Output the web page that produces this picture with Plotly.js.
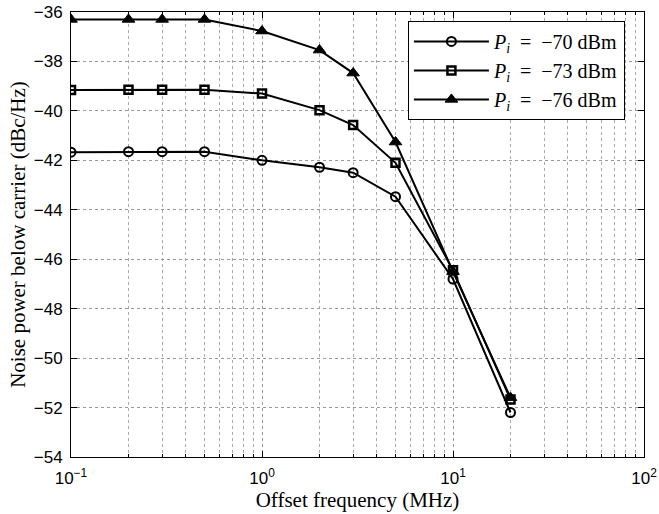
<!DOCTYPE html>
<html>
<head>
<meta charset="utf-8">
<script src="https://cdn.plot.ly/plotly-3.0.1.min.js"></script>
<style>html,body{margin:0;padding:0;background:#fff;}#chart{width:659px;height:514px;}</style>
</head>
<body>
<div id="chart"></div>
<script>
const offsetFreq = [0.1, 0.2, 0.3, 0.5, 1, 2, 3, 5, 10, 20];
const noise70 = [-41.67, -41.65, -41.65, -41.65, -42.0, -42.28, -42.5, -43.47, -46.8, -52.2];
const noise73 = [-39.16, -39.15, -39.15, -39.15, -39.3, -39.97, -40.57, -42.1, -46.45, -51.67];
const noise76 = [-36.3, -36.3, -36.3, -36.3, -36.77, -37.54, -38.47, -41.26, -46.5, -51.6];
const seriesNames = [
  '<i>P</i><sub><i>i</i></sub>\u2002=\u2002\u221270\u00A0dBm',
  '<i>P</i><sub><i>i</i></sub>\u2002=\u2002\u221273\u00A0dBm',
  '<i>P</i><sub><i>i</i></sub>\u2002=\u2002\u221276\u00A0dBm'
];
const xTickVals = [0.1, 1, 10, 100];
const xTickText = ['10<sup>−1</sup>', '10<sup>0</sup>', '10<sup>1</sup>', '10<sup>2</sup>'];
const xMinorVals = [0.2,0.3,0.4,0.5,0.6,0.7,0.8,0.9,2,3,4,5,6,7,8,9,20,30,40,50,60,70,80,90];
const yTickVals = [-54,-52,-50,-48,-46,-44,-42,-40,-38,-36];

const common = {type:'scatter', mode:'lines+markers', x: offsetFreq, line:{color:'#000', width:2}};
const traces = [
  Object.assign({}, common, {y: noise70, name: seriesNames[0], marker:{symbol:'circle-open', size:9, color:'#000', line:{width:2, color:'#000'}}}),
  Object.assign({}, common, {y: noise73, name: seriesNames[1], marker:{symbol:'square-open', size:8, color:'#000', line:{width:2.5, color:'#000'}}}),
  Object.assign({}, common, {y: noise76, name: seriesNames[2], marker:{symbol:'triangle-up', size:11, color:'#000', line:{width:1, color:'#000'}}})
];

const layout = {
  width: 659, height: 514,
  margin: {l:71, r:15, t:12, b:57},
  paper_bgcolor:'#fff', plot_bgcolor:'#fff',
  showlegend: true,
  legend: {x:0.588, y:0.98, xanchor:'left', yanchor:'top', bordercolor:'#000', borderwidth:1, bgcolor:'#fff',
           itemwidth:75,
           font:{family:'Liberation Serif, serif', size:20, color:'#000'}, tracegroupgap:0},
  xaxis: {
    type:'log', range:[-1, 2], tickmode:'array', tickvals:xTickVals, ticktext:xTickText,
    ticks:'inside', ticklen:6, tickcolor:'#000', showline:true, linecolor:'#000', linewidth:1, mirror:'ticks',
    showgrid:true, gridcolor:'#999', griddash:'dot', gridwidth:1, zeroline:false, ticklabelstandoff:6,
    tickfont:{family:'Liberation Sans, Arial, sans-serif', size:17, color:'#000'},
    minor:{tickmode:'array', tickvals:xMinorVals, ticks:'inside', ticklen:3, tickcolor:'#000', showgrid:true, gridcolor:'#aaa', griddash:'dot', gridwidth:1},
    title:{text:'Offset frequency (MHz)', font:{family:'Liberation Serif, serif', size:21, color:'#000'}, standoff:2}
  },
  yaxis: {
    range:[-54, -36], tickmode:'array', tickvals:yTickVals,
    ticks:'inside', ticklen:6, tickcolor:'#000', showline:true, linecolor:'#000', linewidth:1, mirror:'ticks',
    showgrid:true, gridcolor:'#999', griddash:'dot', gridwidth:1, zeroline:false, ticklabelstandoff:4,
    tickfont:{family:'Liberation Sans, Arial, sans-serif', size:17, color:'#000'},
    title:{text:'Noise power below carrier (dBc/Hz)', font:{family:'Liberation Serif, serif', size:21, color:'#000'}, standoff:2}
  }
};

Plotly.newPlot('chart', traces, layout, {displayModeBar:false, staticPlot:true});
</script>
</body>
</html>
